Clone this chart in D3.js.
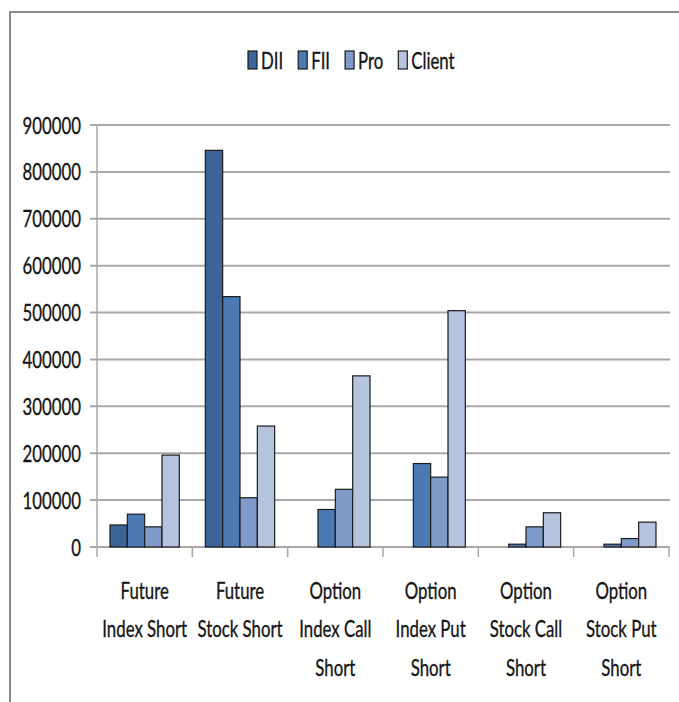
<!DOCTYPE html>
<html>
<head>
<meta charset="utf-8">
<script src="https://cdn.jsdelivr.net/npm/d3@7"></script>
<style>
  html, body { margin: 0; padding: 0; background: #fff; }
  svg { display: block; }
  text { font-family: Lato, "Open Sans", sans-serif; fill: #141414; stroke: #141414; stroke-width: 0.35; }
</style>
</head>
<body>
<svg id="chart" width="679" height="702"></svg>
<script>
// Short positions by participant type
const categories = [
  ["Future", "Index Short"],
  ["Future", "Stock Short"],
  ["Option", "Index Call", "Short"],
  ["Option", "Index Put", "Short"],
  ["Option", "Stock Call", "Short"],
  ["Option", "Stock Put", "Short"]
];
const seriesNames = ["DII", "FII", "Pro", "Client"];
const dii    = [47000, 846000, 0, 0, 0, 0];
const fii    = [70000, 534000, 80000, 178000, 6000, 6000];
const pro    = [43000, 105000, 123000, 149000, 43000, 18000];
const client = [196000, 258000, 365000, 504000, 73000, 53000];
const yTicks = [0, 100000, 200000, 300000, 400000, 500000, 600000, 700000, 800000, 900000];
const colors = ["#3d6497", "#4a79b4", "#7e9bc9", "#b5c3de"];

const seriesValues = [dii, fii, pro, client];
const catKeys = categories.map(c => c.join(" "));

const svg = d3.select("#chart");
const FONT = 24, SX = 0.7;

// frame
svg.append("line").attr("x1", 10).attr("x2", 10).attr("y1", 12).attr("y2", 702)
  .attr("stroke", "#8a8a8a").attr("stroke-width", 2);
svg.append("line").attr("x1", 9).attr("x2", 679).attr("y1", 12).attr("y2", 12)
  .attr("stroke", "#8a8a8a").attr("stroke-width", 2);

const plotLeft = 97, plotRight = 669, plotTop = 125, plotBottom = 547;

const x0 = d3.scaleBand().domain(catKeys).range([plotLeft, plotRight]).paddingInner(0).paddingOuter(0);
const step = x0.bandwidth();
const x1 = d3.scaleBand().domain(seriesNames).range([13, step - 13]).padding(0);
const y = d3.scaleLinear().domain([0, 900000]).range([plotBottom, plotTop]);

// gridlines
svg.append("g").selectAll("line").data(yTicks).join("line")
  .attr("x1", 90).attr("x2", 670)
  .attr("y1", d => y(d)).attr("y2", d => y(d))
  .attr("stroke", "#a8a8a8").attr("stroke-width", 2);

// y axis line
svg.append("line").attr("x1", plotLeft).attr("x2", plotLeft).attr("y1", plotTop).attr("y2", plotBottom)
  .attr("stroke", "#a8a8a8").attr("stroke-width", 1.5);

// category ticks
const bounds = catKeys.map(k => x0(k)).concat([plotRight]);
svg.append("g").selectAll("line").data(bounds).join("line")
  .attr("x1", d => d).attr("x2", d => d).attr("y1", plotBottom).attr("y2", plotBottom + 10)
  .attr("stroke", "#a8a8a8").attr("stroke-width", 1.5);

// y tick labels
svg.append("g").selectAll("text").data(yTicks).join("text")
  .attr("transform", d => `translate(81,${y(d) + 8.5}) scale(${SX},1)`)
  .attr("text-anchor", "end").attr("font-size", FONT)
  .text(d => d);

// bars
const flat = [];
catKeys.forEach((k, i) => seriesNames.forEach((s, j) => {
  flat.push({ k, s, j, v: seriesValues[j][i] });
}));
svg.append("g").selectAll("rect").data(flat.filter(d => d.v > 0)).join("rect")
  .attr("x", d => x0(d.k) + x1(d.s))
  .attr("width", x1.bandwidth())
  .attr("y", d => y(d.v))
  .attr("height", d => y(0) - y(d.v))
  .attr("fill", d => colors[d.j])
  .attr("stroke", "#1c1c1c").attr("stroke-width", 1.2);

// category labels
const lineY = [599, 637, 676];
const cg = svg.append("g").selectAll("g").data(categories).join("g");
cg.each(function(lines, i) {
  const cx = x0(catKeys[i]) + step / 2;
  d3.select(this).selectAll("text").data(lines).join("text")
    .attr("transform", (d, j) => `translate(${cx},${lineY[j]}) scale(${SX},1)`)
    .attr("text-anchor", "middle").attr("font-size", FONT)
    .text(d => d);
});

// legend
const lg = svg.append("g");
let lx = 248;
seriesNames.forEach((s, j) => {
  lg.append("rect").attr("x", lx).attr("y", 51).attr("width", 9).attr("height", 18)
    .attr("fill", colors[j]).attr("stroke", "#1c1c1c").attr("stroke-width", 1.2);
  const t = lg.append("text")
    .attr("transform", `translate(${lx + 13},69) scale(${SX},1)`)
    .attr("font-size", FONT).text(s);
  const w = t.node().getComputedTextLength() * SX;
  lx += 13 + w + 15;
});
</script>
</body>
</html>
